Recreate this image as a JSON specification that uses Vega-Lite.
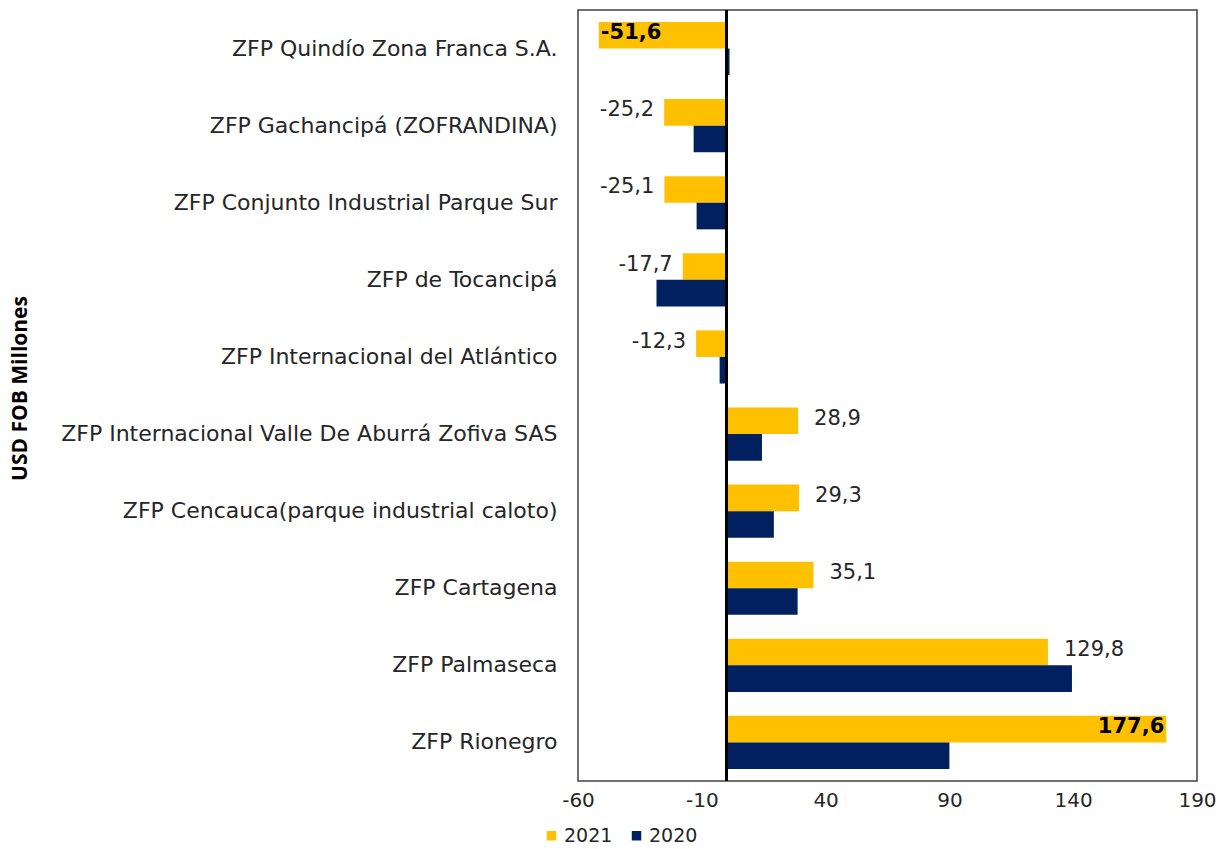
{
  "$schema": "https://vega.github.io/schema/vega-lite/v6.json",
  "autosize": {"type": "none"},
  "padding": {"left": 578, "top": 10, "right": 22, "bottom": 68},
  "width": 619,
  "height": 771,
  "config": {
    "view": {"stroke": "#404040", "strokeWidth": 1.5},
    "locale": {"number": {"decimal": ",", "thousands": ".", "grouping": [3], "currency": ["$", ""], "minus": "-"}}
  },
  "data": {
    "values": [
      {"zona": "ZFP Quindío Zona Franca S.A.", "year": "2021", "value": -51.6},
      {"zona": "ZFP Quindío Zona Franca S.A.", "year": "2020", "value": 1.2},
      {"zona": "ZFP Gachancipá (ZOFRANDINA)", "year": "2021", "value": -25.2},
      {"zona": "ZFP Gachancipá (ZOFRANDINA)", "year": "2020", "value": -13.3},
      {"zona": "ZFP Conjunto Industrial Parque Sur", "year": "2021", "value": -25.1},
      {"zona": "ZFP Conjunto Industrial Parque Sur", "year": "2020", "value": -12.1},
      {"zona": "ZFP de Tocancipá", "year": "2021", "value": -17.7},
      {"zona": "ZFP de Tocancipá", "year": "2020", "value": -28.3},
      {"zona": "ZFP Internacional del Atlántico", "year": "2021", "value": -12.3},
      {"zona": "ZFP Internacional del Atlántico", "year": "2020", "value": -2.8},
      {"zona": "ZFP Internacional Valle De Aburrá Zofiva SAS", "year": "2021", "value": 28.9},
      {"zona": "ZFP Internacional Valle De Aburrá Zofiva SAS", "year": "2020", "value": 14.3},
      {"zona": "ZFP Cencauca(parque industrial caloto)", "year": "2021", "value": 29.3},
      {"zona": "ZFP Cencauca(parque industrial caloto)", "year": "2020", "value": 19.1},
      {"zona": "ZFP Cartagena", "year": "2021", "value": 35.1},
      {"zona": "ZFP Cartagena", "year": "2020", "value": 28.7},
      {"zona": "ZFP Palmaseca", "year": "2021", "value": 129.8},
      {"zona": "ZFP Palmaseca", "year": "2020", "value": 139.5},
      {"zona": "ZFP Rionegro", "year": "2021", "value": 177.6},
      {"zona": "ZFP Rionegro", "year": "2020", "value": 90.0}
    ]
  },
  "encoding": {
    "y": {
      "field": "zona",
      "type": "nominal",
      "sort": null,
      "scale": {"paddingInner": 0.31, "paddingOuter": 0.155},
      "axis": {
        "title": "USD FOB Millones",
        "titleFont": "Open Sans",
        "titleFontWeight": "bold",
        "titleFontSize": 21,
        "titleColor": "#000000",
        "titleX": -548,
        "titleY": 378,
        "titleAngle": -90,
        "labelFont": "DejaVu Sans",
        "labelFontSize": 22,
        "labelColor": "#262626",
        "labelPadding": 21,
        "ticks": false,
        "domain": false,
        "labelLimit": 600
      }
    },
    "yOffset": {"field": "year", "type": "nominal", "sort": ["2021", "2020"]},
    "x": {
      "field": "value",
      "type": "quantitative",
      "scale": {"domain": [-60, 190], "nice": false, "zero": false},
      "axis": {
        "title": null,
        "values": [-60, -10, 40, 90, 140, 190],
        "format": "d",
        "grid": false,
        "ticks": false,
        "domain": false,
        "labelFont": "DejaVu Sans",
        "labelFontSize": 20,
        "labelColor": "#262626",
        "labelPadding": 9,
        "labelFlush": false
      }
    }
  },
  "layer": [
    {
      "mark": {"type": "bar"},
      "encoding": {
        "color": {
          "field": "year",
          "type": "nominal",
          "scale": {"domain": ["2021", "2020"], "range": ["#FFC000", "#002060"]},
          "legend": {
            "title": null,
            "orient": "none",
            "legendX": -36,
            "legendY": 816,
            "direction": "horizontal",
            "symbolType": "square",
            "symbolSize": 90,
            "labelFont": "DejaVu Sans",
            "labelFontSize": 19,
            "labelColor": "#262626",
            "columnPadding": 14,
            "labelOffset": 3
          }
        }
      }
    },
    {
      "mark": {"type": "rule", "color": "#000000", "strokeWidth": 1.5},
      "encoding": {"x": {"datum": 0}, "y": null, "yOffset": null}
    },
    {
      "transform": [{"filter": "datum.year == '2021' && datum.value > 0 && datum.value < 150"}],
      "mark": {"type": "text", "align": "left", "dx": 16, "dy": -2, "font": "DejaVu Sans", "fontSize": 21, "color": "#262626"},
      "encoding": {"text": {"field": "value", "type": "quantitative", "format": ".1f"}}
    },
    {
      "transform": [{"filter": "datum.year == '2021' && datum.value < 0 && datum.value > -40"}],
      "mark": {"type": "text", "align": "right", "dx": -10, "dy": -2, "font": "DejaVu Sans", "fontSize": 21, "color": "#262626"},
      "encoding": {"text": {"field": "value", "type": "quantitative", "format": ".1f"}}
    },
    {
      "transform": [{"filter": "datum.year == '2021' && datum.value >= 150"}],
      "mark": {"type": "text", "align": "right", "dx": -2, "dy": -2, "font": "DejaVu Sans", "fontSize": 21, "fontWeight": "bold", "color": "#000000"},
      "encoding": {"text": {"field": "value", "type": "quantitative", "format": ".1f"}}
    },
    {
      "transform": [{"filter": "datum.year == '2021' && datum.value <= -40"}],
      "mark": {"type": "text", "align": "left", "dx": 2, "dy": -2, "font": "DejaVu Sans", "fontSize": 21, "fontWeight": "bold", "color": "#000000"},
      "encoding": {"text": {"field": "value", "type": "quantitative", "format": ".1f"}}
    }
  ]
}
